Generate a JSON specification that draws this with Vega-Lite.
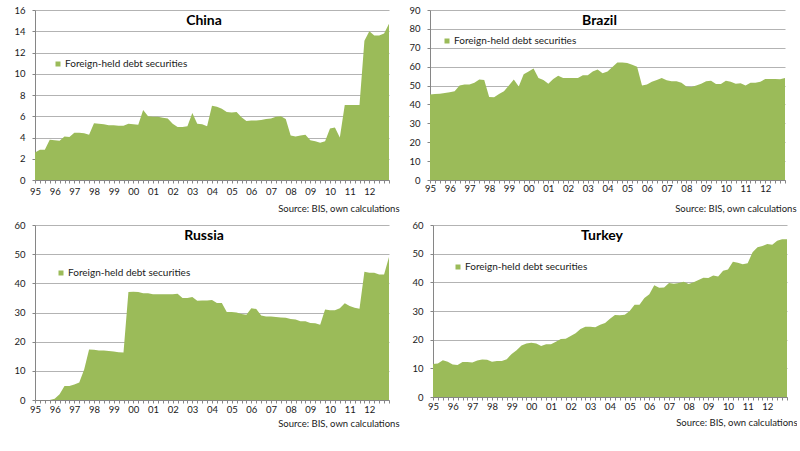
{
  "$schema": "https://vega.github.io/schema/vega-lite/v6.json",
  "background": "white",
  "padding": {"left": 13, "top": 5, "right": 0, "bottom": 0},
  "config": {
    "view": {"stroke": null},
    "font": "Lato",
    "axis": {
      "domainColor": "#868686",
      "tickColor": "#868686",
      "gridColor": "#b3b3b3",
      "labelFont": "Lato",
      "labelFontSize": 9.5,
      "labelColor": "#1a1a1a",
      "tickSize": 3
    },
    "axisX": {
      "grid": false,
      "labelOverlap": false,
      "labelFlush": false,
      "labelPadding": 2,
      "titleFont": "Lato",
      "titleFontSize": 9.5,
      "titleFontWeight": "normal",
      "titleColor": "#1a1a1a",
      "titleAnchor": "end",
      "titleAlign": "right",
      "titleBaseline": "middle",
      "titleY": 28
    },
    "axisY": {"grid": true, "labelPadding": 7, "tickSize": 3, "title": null},
    "title": {
      "font": "Lato",
      "fontSize": 14,
      "fontWeight": "bold",
      "color": "#000000",
      "anchor": "middle",
      "baseline": "middle",
      "offset": -23,
      "dx": -8
    },
    "legend": {
      "labelFont": "Lato",
      "labelFontSize": 10,
      "labelColor": "#1a1a1a",
      "labelOffset": 2,
      "symbolType": "square",
      "symbolSize": 25,
      "symbolStrokeWidth": 0,
      "padding": 0,
      "title": null
    }
  },
  "datasets": {
    "china": [
      {"t": 1995, "v": 2.6}, {"t": 1995.25, "v": 2.85}, {"t": 1995.5, "v": 2.85}, {"t": 1995.75, "v": 3.8},
      {"t": 1996, "v": 3.75}, {"t": 1996.25, "v": 3.7}, {"t": 1996.5, "v": 4.1}, {"t": 1996.75, "v": 4.05},
      {"t": 1997, "v": 4.45}, {"t": 1997.25, "v": 4.45}, {"t": 1997.5, "v": 4.4}, {"t": 1997.75, "v": 4.25},
      {"t": 1998, "v": 5.35}, {"t": 1998.25, "v": 5.3}, {"t": 1998.5, "v": 5.25}, {"t": 1998.75, "v": 5.15},
      {"t": 1999, "v": 5.15}, {"t": 1999.25, "v": 5.1}, {"t": 1999.5, "v": 5.1}, {"t": 1999.75, "v": 5.3},
      {"t": 2000, "v": 5.25}, {"t": 2000.25, "v": 5.2}, {"t": 2000.5, "v": 6.6}, {"t": 2000.75, "v": 6.0},
      {"t": 2001, "v": 5.95}, {"t": 2001.25, "v": 5.95}, {"t": 2001.5, "v": 5.85}, {"t": 2001.75, "v": 5.8},
      {"t": 2002, "v": 5.3}, {"t": 2002.25, "v": 5.0}, {"t": 2002.5, "v": 5.0}, {"t": 2002.75, "v": 5.05},
      {"t": 2003, "v": 6.3}, {"t": 2003.25, "v": 5.3}, {"t": 2003.5, "v": 5.25}, {"t": 2003.75, "v": 5.05},
      {"t": 2004, "v": 7.0}, {"t": 2004.25, "v": 6.9}, {"t": 2004.5, "v": 6.7}, {"t": 2004.75, "v": 6.4},
      {"t": 2005, "v": 6.35}, {"t": 2005.25, "v": 6.4}, {"t": 2005.5, "v": 5.9}, {"t": 2005.75, "v": 5.55},
      {"t": 2006, "v": 5.6}, {"t": 2006.25, "v": 5.6}, {"t": 2006.5, "v": 5.65}, {"t": 2006.75, "v": 5.75},
      {"t": 2007, "v": 5.8}, {"t": 2007.25, "v": 5.95}, {"t": 2007.5, "v": 6.0}, {"t": 2007.75, "v": 5.75},
      {"t": 2008, "v": 4.2}, {"t": 2008.25, "v": 4.1}, {"t": 2008.5, "v": 4.2}, {"t": 2008.75, "v": 4.25},
      {"t": 2009, "v": 3.75}, {"t": 2009.25, "v": 3.65}, {"t": 2009.5, "v": 3.5}, {"t": 2009.75, "v": 3.65},
      {"t": 2010, "v": 4.85}, {"t": 2010.25, "v": 4.95}, {"t": 2010.5, "v": 4.0}, {"t": 2010.75, "v": 7.05},
      {"t": 2011, "v": 7.05}, {"t": 2011.25, "v": 7.05}, {"t": 2011.5, "v": 7.05}, {"t": 2011.75, "v": 13.1},
      {"t": 2012, "v": 14.0}, {"t": 2012.25, "v": 13.6}, {"t": 2012.5, "v": 13.6}, {"t": 2012.75, "v": 13.8},
      {"t": 2013, "v": 14.7}
    ],
    "brazil": [
      {"t": 1995, "v": 45.2}, {"t": 1995.25, "v": 45.5}, {"t": 1995.5, "v": 45.7}, {"t": 1995.75, "v": 46},
      {"t": 1996, "v": 46.5}, {"t": 1996.25, "v": 47}, {"t": 1996.5, "v": 50}, {"t": 1996.75, "v": 50.5},
      {"t": 1997, "v": 50.5}, {"t": 1997.25, "v": 51.5}, {"t": 1997.5, "v": 53.2}, {"t": 1997.75, "v": 53},
      {"t": 1998, "v": 44}, {"t": 1998.25, "v": 43.8}, {"t": 1998.5, "v": 45.5}, {"t": 1998.75, "v": 47},
      {"t": 1999, "v": 50}, {"t": 1999.25, "v": 53.2}, {"t": 1999.5, "v": 49.5}, {"t": 1999.75, "v": 56},
      {"t": 2000, "v": 57.5}, {"t": 2000.25, "v": 59}, {"t": 2000.5, "v": 54}, {"t": 2000.75, "v": 53},
      {"t": 2001, "v": 51}, {"t": 2001.25, "v": 53.5}, {"t": 2001.5, "v": 55.2}, {"t": 2001.75, "v": 54},
      {"t": 2002, "v": 54}, {"t": 2002.25, "v": 54}, {"t": 2002.5, "v": 54}, {"t": 2002.75, "v": 55.5},
      {"t": 2003, "v": 55.5}, {"t": 2003.25, "v": 57.5}, {"t": 2003.5, "v": 58.5}, {"t": 2003.75, "v": 56.5},
      {"t": 2004, "v": 57.5}, {"t": 2004.25, "v": 59.8}, {"t": 2004.5, "v": 62.2}, {"t": 2004.75, "v": 62.2},
      {"t": 2005, "v": 62}, {"t": 2005.25, "v": 61}, {"t": 2005.5, "v": 60}, {"t": 2005.75, "v": 50},
      {"t": 2006, "v": 50.5}, {"t": 2006.25, "v": 52}, {"t": 2006.5, "v": 53}, {"t": 2006.75, "v": 54},
      {"t": 2007, "v": 52.8}, {"t": 2007.25, "v": 52.3}, {"t": 2007.5, "v": 52.3}, {"t": 2007.75, "v": 51.5},
      {"t": 2008, "v": 49.5}, {"t": 2008.25, "v": 49.2}, {"t": 2008.5, "v": 50}, {"t": 2008.75, "v": 51},
      {"t": 2009, "v": 52.3}, {"t": 2009.25, "v": 52.5}, {"t": 2009.5, "v": 50.8}, {"t": 2009.75, "v": 50.8},
      {"t": 2010, "v": 52.5}, {"t": 2010.25, "v": 52}, {"t": 2010.5, "v": 51}, {"t": 2010.75, "v": 51.2},
      {"t": 2011, "v": 50}, {"t": 2011.25, "v": 51.5}, {"t": 2011.5, "v": 51.5}, {"t": 2011.75, "v": 52},
      {"t": 2012, "v": 53.5}, {"t": 2012.25, "v": 53.5}, {"t": 2012.5, "v": 53.5}, {"t": 2012.75, "v": 53.3},
      {"t": 2013, "v": 54}
    ],
    "russia": [
      {"t": 1995, "v": 0}, {"t": 1995.25, "v": 0}, {"t": 1995.5, "v": 0}, {"t": 1995.75, "v": 0},
      {"t": 1996, "v": 0.4}, {"t": 1996.25, "v": 2}, {"t": 1996.5, "v": 4.8}, {"t": 1996.75, "v": 4.8},
      {"t": 1997, "v": 5.3}, {"t": 1997.25, "v": 6}, {"t": 1997.5, "v": 10.5}, {"t": 1997.75, "v": 17.3},
      {"t": 1998, "v": 17.2}, {"t": 1998.25, "v": 17}, {"t": 1998.5, "v": 17}, {"t": 1998.75, "v": 16.8},
      {"t": 1999, "v": 16.6}, {"t": 1999.25, "v": 16.4}, {"t": 1999.5, "v": 16.3}, {"t": 1999.75, "v": 37},
      {"t": 2000, "v": 37.1}, {"t": 2000.25, "v": 37}, {"t": 2000.5, "v": 36.6}, {"t": 2000.75, "v": 36.6},
      {"t": 2001, "v": 36.3}, {"t": 2001.25, "v": 36.3}, {"t": 2001.5, "v": 36.3}, {"t": 2001.75, "v": 36.3},
      {"t": 2002, "v": 36.3}, {"t": 2002.25, "v": 36.4}, {"t": 2002.5, "v": 35}, {"t": 2002.75, "v": 35},
      {"t": 2003, "v": 35.3}, {"t": 2003.25, "v": 34}, {"t": 2003.5, "v": 34.1}, {"t": 2003.75, "v": 34.1},
      {"t": 2004, "v": 34.3}, {"t": 2004.25, "v": 33.3}, {"t": 2004.5, "v": 33.3}, {"t": 2004.75, "v": 30.2},
      {"t": 2005, "v": 30.2}, {"t": 2005.25, "v": 30}, {"t": 2005.5, "v": 29.5}, {"t": 2005.75, "v": 29.2},
      {"t": 2006, "v": 31.5}, {"t": 2006.25, "v": 31.2}, {"t": 2006.5, "v": 29}, {"t": 2006.75, "v": 28.6},
      {"t": 2007, "v": 28.6}, {"t": 2007.25, "v": 28.5}, {"t": 2007.5, "v": 28.3}, {"t": 2007.75, "v": 28.2},
      {"t": 2008, "v": 27.8}, {"t": 2008.25, "v": 27.6}, {"t": 2008.5, "v": 27}, {"t": 2008.75, "v": 27},
      {"t": 2009, "v": 26.4}, {"t": 2009.25, "v": 26.3}, {"t": 2009.5, "v": 25.8}, {"t": 2009.75, "v": 31},
      {"t": 2010, "v": 30.8}, {"t": 2010.25, "v": 30.8}, {"t": 2010.5, "v": 31.5}, {"t": 2010.75, "v": 33.2},
      {"t": 2011, "v": 32.2}, {"t": 2011.25, "v": 31.6}, {"t": 2011.5, "v": 31.3}, {"t": 2011.75, "v": 44},
      {"t": 2012, "v": 43.6}, {"t": 2012.25, "v": 43.6}, {"t": 2012.5, "v": 43}, {"t": 2012.75, "v": 43},
      {"t": 2013, "v": 49}
    ],
    "turkey": [
      {"t": 1995, "v": 11.5}, {"t": 1995.25, "v": 11.7}, {"t": 1995.5, "v": 12.8}, {"t": 1995.75, "v": 12.3},
      {"t": 1996, "v": 11.3}, {"t": 1996.25, "v": 11.2}, {"t": 1996.5, "v": 12.2}, {"t": 1996.75, "v": 12.2},
      {"t": 1997, "v": 12}, {"t": 1997.25, "v": 12.7}, {"t": 1997.5, "v": 13.1}, {"t": 1997.75, "v": 13},
      {"t": 1998, "v": 12.3}, {"t": 1998.25, "v": 12.6}, {"t": 1998.5, "v": 12.6}, {"t": 1998.75, "v": 13.2},
      {"t": 1999, "v": 15}, {"t": 1999.25, "v": 16.3}, {"t": 1999.5, "v": 18}, {"t": 1999.75, "v": 18.7},
      {"t": 2000, "v": 18.9}, {"t": 2000.25, "v": 18.7}, {"t": 2000.5, "v": 17.8}, {"t": 2000.75, "v": 18.4},
      {"t": 2001, "v": 18.4}, {"t": 2001.25, "v": 19.3}, {"t": 2001.5, "v": 20.2}, {"t": 2001.75, "v": 20.3},
      {"t": 2002, "v": 21.3}, {"t": 2002.25, "v": 22.2}, {"t": 2002.5, "v": 23.7}, {"t": 2002.75, "v": 24.5},
      {"t": 2003, "v": 24.5}, {"t": 2003.25, "v": 24.3}, {"t": 2003.5, "v": 25.2}, {"t": 2003.75, "v": 25.8},
      {"t": 2004, "v": 27.3}, {"t": 2004.25, "v": 28.6}, {"t": 2004.5, "v": 28.5}, {"t": 2004.75, "v": 28.7},
      {"t": 2005, "v": 30}, {"t": 2005.25, "v": 32.2}, {"t": 2005.5, "v": 32.2}, {"t": 2005.75, "v": 34.5},
      {"t": 2006, "v": 35.8}, {"t": 2006.25, "v": 39}, {"t": 2006.5, "v": 38.1}, {"t": 2006.75, "v": 38.2},
      {"t": 2007, "v": 39.8}, {"t": 2007.25, "v": 39.5}, {"t": 2007.5, "v": 39.8}, {"t": 2007.75, "v": 40.2},
      {"t": 2008, "v": 39.4}, {"t": 2008.25, "v": 40}, {"t": 2008.5, "v": 40.8}, {"t": 2008.75, "v": 41.6},
      {"t": 2009, "v": 41.5}, {"t": 2009.25, "v": 42.4}, {"t": 2009.5, "v": 42}, {"t": 2009.75, "v": 44},
      {"t": 2010, "v": 44.5}, {"t": 2010.25, "v": 47.2}, {"t": 2010.5, "v": 46.8}, {"t": 2010.75, "v": 46.3},
      {"t": 2011, "v": 46.7}, {"t": 2011.25, "v": 50.5}, {"t": 2011.5, "v": 52.2}, {"t": 2011.75, "v": 52.7},
      {"t": 2012, "v": 53.4}, {"t": 2012.25, "v": 53.1}, {"t": 2012.5, "v": 54.5}, {"t": 2012.75, "v": 55},
      {"t": 2013, "v": 55}
    ]
  },
  "spacing": 7,
  "resolve": {"scale": {"color": "independent"}, "legend": {"color": "independent"}},
  "vconcat": [
    {
      "bounds": "flush",
      "spacing": 41,
      "resolve": {"scale": {"color": "independent"}, "legend": {"color": "independent"}},
      "hconcat": [
        {
          "data": {"name": "china"},
          "width": 354,
          "height": 170,
          "title": {"text": "China"},
          "mark": {"type": "area", "color": "#9BBB59"},
          "encoding": {
            "x": {
              "field": "t",
              "type": "quantitative",
              "scale": {"domain": [1995, 2013]},
              "axis": {
                "values": [1995,1995.25,1995.5,1995.75,1996,1996.25,1996.5,1996.75,1997,1997.25,1997.5,1997.75,1998,1998.25,1998.5,1998.75,1999,1999.25,1999.5,1999.75,2000,2000.25,2000.5,2000.75,2001,2001.25,2001.5,2001.75,2002,2002.25,2002.5,2002.75,2003,2003.25,2003.5,2003.75,2004,2004.25,2004.5,2004.75,2005,2005.25,2005.5,2005.75,2006,2006.25,2006.5,2006.75,2007,2007.25,2007.5,2007.75,2008,2008.25,2008.5,2008.75,2009,2009.25,2009.5,2009.75,2010,2010.25,2010.5,2010.75,2011,2011.25,2011.5,2011.75,2012,2012.25,2012.5,2012.75,2013],
                "labelExpr": "datum.value % 1 === 0 && datum.value < 2013 ? substring(toString(datum.value), 2, 4) : ''",
                "labelPadding": 3,
                "title": "Source: BIS, own calculations",
                "titleX": 364,
                "titleY": 28
              }
            },
            "y": {
              "field": "v",
              "type": "quantitative",
              "scale": {"domain": [0, 16]},
              "axis": {"values": [0, 2, 4, 6, 8, 10, 12, 14, 16]}
            },
            "color": {
              "datum": "Foreign-held debt securities",
              "scale": {"range": ["#9BBB59"]},
              "legend": {"orient": "none", "legendX": 18, "legendY": 49}
            }
          }
        },
        {
          "data": {"name": "brazil"},
          "width": 355,
          "height": 170,
          "title": {"text": "Brazil"},
          "mark": {"type": "area", "color": "#9BBB59"},
          "encoding": {
            "x": {
              "field": "t",
              "type": "quantitative",
              "scale": {"domain": [1995, 2013]},
              "axis": {
                "values": [1995,1995.25,1995.5,1995.75,1996,1996.25,1996.5,1996.75,1997,1997.25,1997.5,1997.75,1998,1998.25,1998.5,1998.75,1999,1999.25,1999.5,1999.75,2000,2000.25,2000.5,2000.75,2001,2001.25,2001.5,2001.75,2002,2002.25,2002.5,2002.75,2003,2003.25,2003.5,2003.75,2004,2004.25,2004.5,2004.75,2005,2005.25,2005.5,2005.75,2006,2006.25,2006.5,2006.75,2007,2007.25,2007.5,2007.75,2008,2008.25,2008.5,2008.75,2009,2009.25,2009.5,2009.75,2010,2010.25,2010.5,2010.75,2011,2011.25,2011.5,2011.75,2012,2012.25,2012.5,2012.75,2013],
                "labelExpr": "datum.value % 1 === 0 && datum.value < 2013 ? substring(toString(datum.value), 2, 4) : ''",
                "labelPadding": 0,
                "title": "Source: BIS, own calculations",
                "titleX": 366,
                "titleY": 28
              }
            },
            "y": {
              "field": "v",
              "type": "quantitative",
              "scale": {"domain": [0, 90]},
              "axis": {"values": [0, 10, 20, 30, 40, 50, 60, 70, 80, 90]}
            },
            "color": {
              "datum": "Foreign-held debt securities",
              "scale": {"range": ["#9BBB59"]},
              "legend": {"orient": "none", "legendX": 12, "legendY": 26}
            }
          }
        }
      ]
    },
    {
      "bounds": "flush",
      "spacing": 44,
      "resolve": {"scale": {"color": "independent"}, "legend": {"color": "independent"}},
      "hconcat": [
        {
          "data": {"name": "russia"},
          "width": 354,
          "height": 175,
          "title": {"text": "Russia"},
          "mark": {"type": "area", "color": "#9BBB59"},
          "encoding": {
            "x": {
              "field": "t",
              "type": "quantitative",
              "scale": {"domain": [1995, 2013]},
              "axis": {
                "values": [1995,1995.25,1995.5,1995.75,1996,1996.25,1996.5,1996.75,1997,1997.25,1997.5,1997.75,1998,1998.25,1998.5,1998.75,1999,1999.25,1999.5,1999.75,2000,2000.25,2000.5,2000.75,2001,2001.25,2001.5,2001.75,2002,2002.25,2002.5,2002.75,2003,2003.25,2003.5,2003.75,2004,2004.25,2004.5,2004.75,2005,2005.25,2005.5,2005.75,2006,2006.25,2006.5,2006.75,2007,2007.25,2007.5,2007.75,2008,2008.25,2008.5,2008.75,2009,2009.25,2009.5,2009.75,2010,2010.25,2010.5,2010.75,2011,2011.25,2011.5,2011.75,2012,2012.25,2012.5,2012.75,2013],
                "labelExpr": "datum.value % 1 === 0 && datum.value < 2013 ? substring(toString(datum.value), 2, 4) : ''",
                "labelPadding": 1,
                "title": "Source: BIS, own calculations",
                "titleX": 364,
                "titleY": 23
              }
            },
            "y": {
              "field": "v",
              "type": "quantitative",
              "scale": {"domain": [0, 60]},
              "axis": {"values": [0, 10, 20, 30, 40, 50, 60]}
            },
            "color": {
              "datum": "Foreign-held debt securities",
              "scale": {"range": ["#9BBB59"]},
              "legend": {"orient": "none", "legendX": 21, "legendY": 43}
            }
          }
        },
        {
          "data": {"name": "turkey"},
          "width": 354,
          "height": 172,
          "title": {"text": "Turkey"},
          "mark": {"type": "area", "color": "#9BBB59"},
          "encoding": {
            "x": {
              "field": "t",
              "type": "quantitative",
              "scale": {"domain": [1995, 2013]},
              "axis": {
                "values": [1995,1995.25,1995.5,1995.75,1996,1996.25,1996.5,1996.75,1997,1997.25,1997.5,1997.75,1998,1998.25,1998.5,1998.75,1999,1999.25,1999.5,1999.75,2000,2000.25,2000.5,2000.75,2001,2001.25,2001.5,2001.75,2002,2002.25,2002.5,2002.75,2003,2003.25,2003.5,2003.75,2004,2004.25,2004.5,2004.75,2005,2005.25,2005.5,2005.75,2006,2006.25,2006.5,2006.75,2007,2007.25,2007.5,2007.75,2008,2008.25,2008.5,2008.75,2009,2009.25,2009.5,2009.75,2010,2010.25,2010.5,2010.75,2011,2011.25,2011.5,2011.75,2012,2012.25,2012.5,2012.75,2013],
                "labelExpr": "datum.value % 1 === 0 && datum.value < 2013 ? substring(toString(datum.value), 2, 4) : ''",
                "labelPadding": 1,
                "title": "Source: BIS, own calculations",
                "titleX": 364,
                "titleY": 25
              }
            },
            "y": {
              "field": "v",
              "type": "quantitative",
              "scale": {"domain": [0, 60]},
              "axis": {"values": [0, 10, 20, 30, 40, 50, 60]}
            },
            "color": {
              "datum": "Foreign-held debt securities",
              "scale": {"range": ["#9BBB59"]},
              "legend": {"orient": "none", "legendX": 20, "legendY": 37}
            }
          }
        }
      ]
    }
  ]
}
